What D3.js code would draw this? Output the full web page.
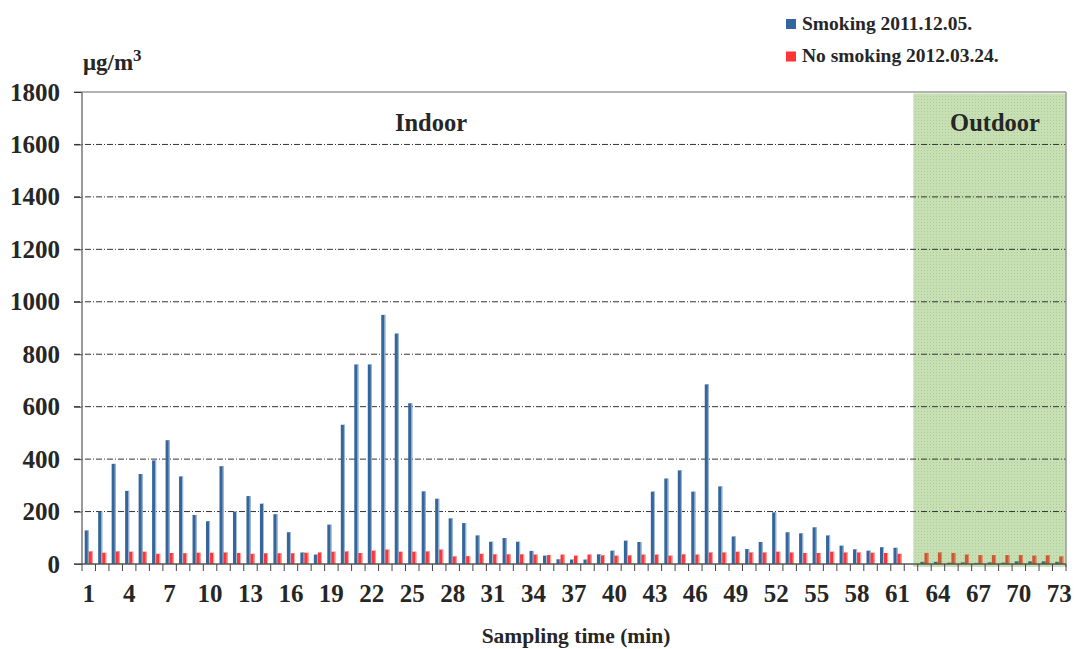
<!DOCTYPE html>
<html>
<head>
<meta charset="utf-8">
<script src="https://cdn.jsdelivr.net/npm/d3@7"></script>
<style>
  body { margin: 0; background: #fff; }
  svg { display: block; }
  text { font-family: "Liberation Serif", "Times New Roman", serif; font-weight: bold; fill: #262626; }
</style>
</head>
<body>
<svg id="chart" width="1076" height="649"></svg>
<script>
// sampling minutes 1..73
const minutes = d3.range(1, 74).map(String);
const tickMinutes = d3.range(1, 74, 3).map(String);
const yTicks = [0, 200, 400, 600, 800, 1000, 1200, 1400, 1600, 1800];

// PM2.5 concentration, µg/m3 (minute 62 not recorded)
const smoking = [
  128, 200, 382, 279, 343, 395, 472, 334, 187, 163,
  373, 200, 259, 230, 190, 121, 44, 36, 150, 531,
  761, 761, 950, 879, 613, 277, 249, 174, 156, 109,
  85, 99, 85, 50, 32, 18, 17, 17, 37, 51,
  89, 84, 276, 326, 357, 276, 685, 296, 105, 57,
  84, 197, 121, 117, 140, 109, 70, 56, 51, 64,
  62, null, 8, 8, 5, 6, 4, 6, 5, 10,
  10, 10, 8
];
const noSmoking = [
  48, 43, 48, 47, 47, 39, 42, 41, 43, 43,
  44, 42, 39, 41, 41, 41, 43, 44, 47, 48,
  42, 51, 55, 47, 47, 48, 55, 29, 30, 39,
  37, 37, 37, 36, 34, 36, 32, 36, 33, 32,
  33, 36, 36, 32, 37, 36, 44, 44, 47, 44,
  44, 47, 44, 42, 42, 47, 44, 44, 43, 42,
  39, null, 42, 44, 42, 36, 34, 34, 34, 34,
  32, 33, 29
];
const seriesNames = ['Smoking 2011.12.05.', 'No smoking 2012.03.24.'];
const firstOutdoor = 63;

const svg = d3.select('#chart');
const plotLeft = 82, plotRight = 1066, plotTop = 92, plotBottom = 564;

const x = d3.scaleBand().domain(minutes).range([plotLeft, plotRight]);
const xs = d3.scaleBand().domain([0, 1]).range([x.bandwidth() * 0.2, x.bandwidth() * 0.8]);
const y = d3.scaleLinear().domain([0, 1800]).range([plotBottom, plotTop]);

// dotted green pattern for outdoor zone
const defs = svg.append('defs');
const pat = defs.append('pattern').attr('id', 'dots').attr('width', 3).attr('height', 3).attr('patternUnits', 'userSpaceOnUse');
pat.append('rect').attr('width', 3).attr('height', 3).attr('fill', '#c6dfb3');
pat.append('rect').attr('width', 1).attr('height', 1).attr('fill', '#b0cc9a');

const outX = x('62') + x.bandwidth() * 0.67;
svg.append('rect')
  .attr('x', outX).attr('y', plotTop + 1.5)
  .attr('width', plotRight - outX).attr('height', plotBottom - plotTop + 1.5)
  .attr('fill', 'url(#dots)');

// grid
svg.append('g').selectAll('line')
  .data(yTicks.filter(v => v > 0 && v < 1800))
  .enter().append('line')
  .attr('x1', plotLeft - 8).attr('x2', plotRight)
  .attr('y1', d => y(d)).attr('y2', d => y(d))
  .attr('stroke', '#333').attr('stroke-width', 1)
  .attr('stroke-dasharray', '6,2,1,2');
svg.append('line')
  .attr('x1', plotLeft - 8).attr('x2', plotRight)
  .attr('y1', y(1800)).attr('y2', y(1800))
  .attr('stroke', '#9a9a9a').attr('stroke-width', 1.5);
svg.append('line')
  .attr('x1', plotRight).attr('x2', plotRight)
  .attr('y1', y(1800)).attr('y2', plotBottom + 3)
  .attr('stroke', '#9a9a9a').attr('stroke-width', 1.5);

// bars
const rows = minutes.map((m, i) => ({ m, vals: [smoking[i], noSmoking[i]], out: +m >= firstOutdoor }));
const mainColor = (k, out) => out ? (k === 0 ? '#2f6e70' : '#cf5631') : (k === 0 ? '#34659b' : '#ff3535');
const edgeColor = (k, out) => out ? (k === 0 ? '#6f9e8c' : '#e08a66') : (k === 0 ? '#aac1dd' : '#ffaaaa');

const groups = svg.append('g').selectAll('g')
  .data(rows).enter().append('g')
  .attr('transform', d => `translate(${x(d.m)},0)`);
const bar = groups.selectAll('g')
  .data(d => d.vals.map((v, k) => ({ v, k, out: d.out })).filter(e => e.v != null))
  .enter().append('g');
bar.append('rect')
  .attr('x', e => xs(e.k)).attr('y', e => y(e.v))
  .attr('width', xs.bandwidth()).attr('height', e => plotBottom - y(e.v))
  .attr('fill', e => mainColor(e.k, e.out));
bar.append('rect')
  .attr('x', e => xs(e.k) + xs.bandwidth() - 1).attr('y', e => y(e.v))
  .attr('width', 1).attr('height', e => plotBottom - y(e.v))
  .attr('fill', e => edgeColor(e.k, e.out));

// y axis
const yAxis = d3.axisLeft(y).tickValues(yTicks).tickFormat(d3.format('d')).tickSize(8).tickPadding(14);
const yg = svg.append('g').attr('transform', `translate(${plotLeft},0)`).call(yAxis);
yg.select('.domain').remove();
yg.selectAll('.tick line').attr('stroke', '#333');
yg.selectAll('.tick text').style('font-size', '25px').attr('fill', '#262626');
svg.append('line')
  .attr('x1', plotLeft).attr('x2', plotLeft).attr('y1', plotTop).attr('y2', plotBottom)
  .attr('stroke', '#777').attr('stroke-width', 1.5);

// x axis
svg.append('line')
  .attr('x1', plotLeft - 8).attr('x2', plotRight).attr('y1', plotBottom).attr('y2', plotBottom)
  .attr('stroke', '#555').attr('stroke-width', 1.5);
svg.append('g').selectAll('line')
  .data(minutes.concat(['end']))
  .enter().append('line')
  .attr('x1', d => d === 'end' ? plotRight : x(d)).attr('x2', d => d === 'end' ? plotRight : x(d))
  .attr('y1', plotBottom).attr('y2', plotBottom + 7)
  .attr('stroke', '#444').attr('stroke-width', 1);
const xAxis = d3.axisBottom(x).tickValues(tickMinutes).tickSize(0).tickPadding(20);
const xg = svg.append('g').attr('transform', `translate(0,${plotBottom})`).call(xAxis);
xg.select('.domain').remove();
xg.selectAll('.tick text').style('font-size', '25px').attr('fill', '#262626');

// titles
svg.append('text').attr('x', 576).attr('y', 643).attr('text-anchor', 'middle')
  .style('font-size', '21.5px').text('Sampling time (min)');
const unit = svg.append('text').attr('x', 83).attr('y', 70).style('font-size', '23px');
unit.append('tspan').text('μg/m');
unit.append('tspan').attr('dy', -9).style('font-size', '17px').text('3');

svg.append('text').attr('x', 431).attr('y', 131).attr('text-anchor', 'middle')
  .style('font-size', '24.5px').text('Indoor');
svg.append('text').attr('x', 995).attr('y', 131).attr('text-anchor', 'middle')
  .style('font-size', '24.5px').text('Outdoor');

// legend
const legend = svg.append('g').selectAll('g')
  .data(seriesNames).enter().append('g')
  .attr('transform', (d, i) => `translate(786,${19 + i * 32.5})`);
legend.append('rect').attr('width', 10).attr('height', 10)
  .attr('fill', (d, i) => mainColor(i, false));
legend.append('text').attr('x', 16).attr('y', 10.5)
  .style('font-size', '19.5px').text(d => d);
</script>
</body>
</html>
